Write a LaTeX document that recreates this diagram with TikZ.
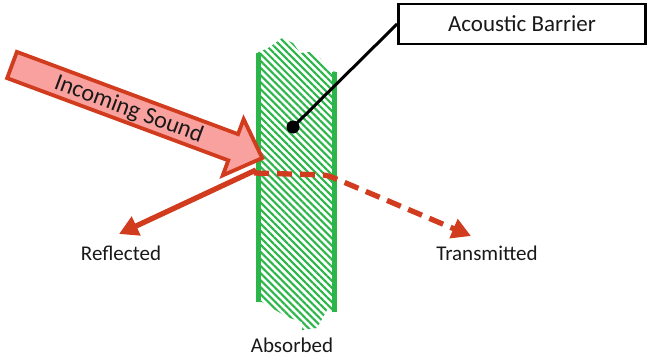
\documentclass[tikz,border=0pt]{standalone}
\usepackage{fontspec}
\setmainfont{Carlito}
\usetikzlibrary{arrows.meta,patterns.meta}
\definecolor{brick}{HTML}{D13C1E}
\definecolor{blush}{HTML}{F9A19E}
\definecolor{leaf}{HTML}{2CB64A}
\tikzset{lbl/.style={font=\fontsize{21}{24}\selectfont,text=black!90,inner sep=0pt}, callout/.style={draw,line width=2.8pt,minimum width=247pt,minimum height=40pt,font=\fontsize{23}{26}\selectfont,text=black!90}, ray/.style={-{Triangle[length=19pt,width=20pt]},line width=5.3pt,draw=brick}, wall/.style={draw=leaf,line width=5pt}, incoming/.style={draw=brick,fill=blush,line width=3.8pt,line join=miter}}
\begin{document}
\begin{tikzpicture}[x=1pt,y=-1pt]
\useasboundingbox (0,0) rectangle (651,359);
% barrier
\fill[pattern={Lines[angle=-45,distance=5pt,line width=2.1pt]},pattern color=leaf] (257,53) -- (270,47) -- (282,38) -- (293,43) -- (300,53) -- (310,52) -- (320,58) -- (330,70) -- (336,72) -- (336,312) -- (327,310) -- (317,328) -- (302,330) -- (302,322) -- (287,317) -- (262,302) -- (257,302) -- cycle;
\draw[wall] (258,53) -- (258,302);
\draw[wall] (334,72) -- (334,312);
% incoming sound
\begin{scope}[shift={(12,65)},rotate=-20.4]
\filldraw[incoming] (0,-14) -- (236,-14) -- (236,-30) -- (267,0) -- (236,30) -- (236,14) -- (0,14) -- cycle;
\node[lbl,font=\fontsize{24}{26}\selectfont,rotate=-20.4] (snd) at (125,1) {Incoming Sound};
\end{scope}
% reflected and transmitted
\coordinate (hit) at (256,170);
\coordinate (entry) at (254,173);
\coordinate (bend) at (327,175);
\coordinate (rtip) at (119,234);
\coordinate (ttip) at (471,236);
\draw[ray] (hit) -- (rtip);
\draw[ray,dash pattern=on 15pt off 8pt,rounded corners=6pt] (entry) -- (bend) -- (ttip);
\node[lbl] (refl) at (121,253) {Reflected};
\node[lbl] (trans) at (487,253) {Transmitted};
\node[lbl] (abs) at (292,345) {Absorbed};
% callout
\node[callout] (tag) at (522,24) {Acoustic Barrier};
\node[circle,fill,minimum size=13pt,inner sep=0pt] (pin) at (293,127) {};
\draw[line width=3pt] (pin.center) -- (tag.west);
\end{tikzpicture}
\end{document}
